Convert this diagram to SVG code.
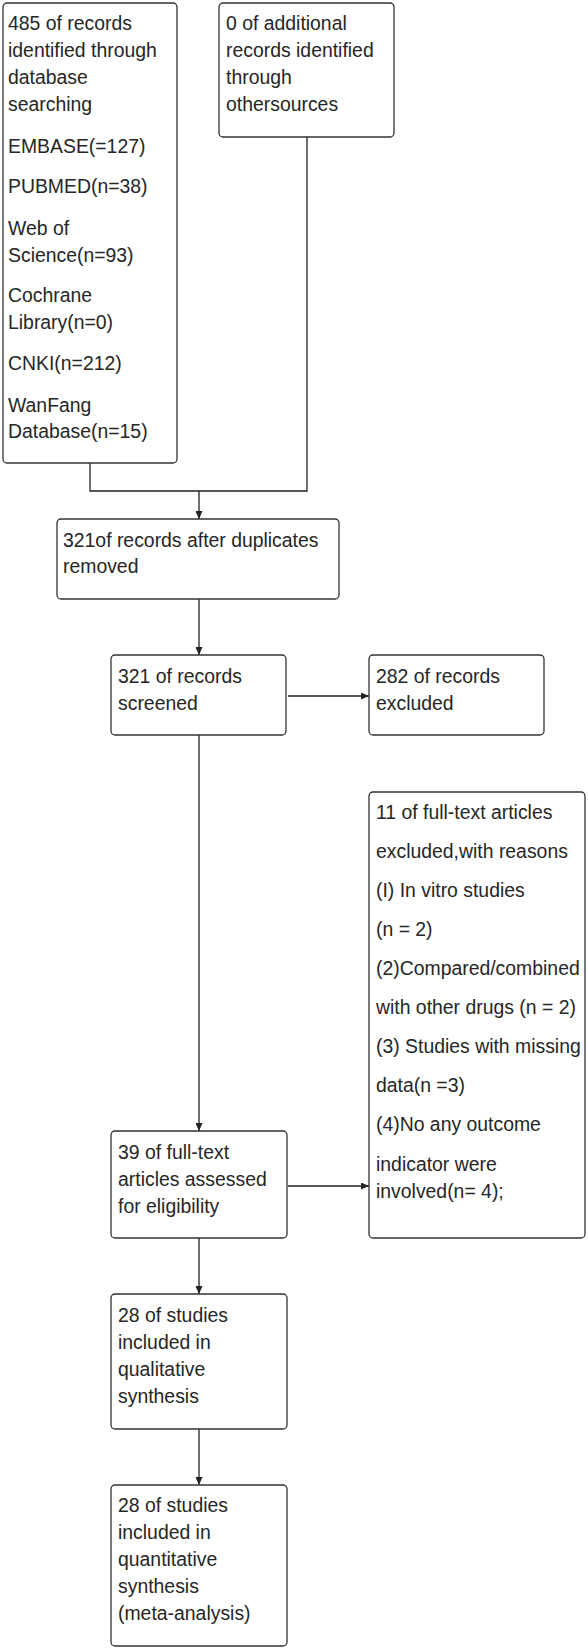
<svg xmlns="http://www.w3.org/2000/svg" width="588" height="1649" viewBox="0 0 588 1649">
<style>
.box{fill:#fff;stroke:#333;stroke-width:1.3}
.t{font-family:"Liberation Sans",Arial,sans-serif;font-size:19.4px;fill:#262626}
.c{fill:none;stroke:#222;stroke-width:1.3}
</style>
<defs>
<marker id="ah" markerUnits="userSpaceOnUse" markerWidth="8" markerHeight="7" refX="8" refY="3.5" orient="auto">
<path d="M0,0 L8,3.5 L0,7 z" fill="#222"/>
</marker>
</defs>
<rect width="588" height="1649" fill="#fff"/>
<g id="connectors">
<path class="c" d="M307,137 V491 H90 V463"/>
<path class="c" d="M199,491 V519" marker-end="url(#ah)"/>
<path class="c" d="M199,599 V655" marker-end="url(#ah)"/>
<path class="c" d="M288,696 H369" marker-end="url(#ah)"/>
<path class="c" d="M199,735 V1131" marker-end="url(#ah)"/>
<path class="c" d="M288,1186 H369" marker-end="url(#ah)"/>
<path class="c" d="M199,1238 V1294" marker-end="url(#ah)"/>
<path class="c" d="M199,1429 V1485" marker-end="url(#ah)"/>
</g>
<g id="n1">
<rect class="box" x="3" y="3" width="174" height="460" rx="4"/>
<text class="t" x="8" y="30">485 of records</text>
<text class="t" x="8" y="57">identified through</text>
<text class="t" x="8" y="84">database</text>
<text class="t" x="8" y="111">searching</text>
<text class="t" x="8" y="153">EMBASE(=127)</text>
<text class="t" x="8" y="193">PUBMED(n=38)</text>
<text class="t" x="8" y="235">Web of</text>
<text class="t" x="8" y="262">Science(n=93)</text>
<text class="t" x="8" y="302">Cochrane</text>
<text class="t" x="8" y="329">Library(n=0)</text>
<text class="t" x="8" y="370">CNKI(n=212)</text>
<text class="t" x="8" y="412">WanFang</text>
<text class="t" x="8" y="438">Database(n=15)</text>
</g>
<g id="n2">
<rect class="box" x="219" y="3" width="175" height="134" rx="4"/>
<text class="t" x="226" y="30">0 of additional</text>
<text class="t" x="226" y="57">records identified</text>
<text class="t" x="226" y="84">through</text>
<text class="t" x="226" y="111">othersources</text>
</g>
<g id="n3">
<rect class="box" x="57" y="519" width="282" height="80" rx="4"/>
<text class="t" x="63" y="547">321of records after duplicates</text>
<text class="t" x="63" y="573">removed</text>
</g>
<g id="n4">
<rect class="box" x="111" y="655" width="175" height="80" rx="4"/>
<text class="t" x="118" y="683">321 of records</text>
<text class="t" x="118" y="710">screened</text>
</g>
<g id="n5">
<rect class="box" x="369" y="655" width="175" height="80" rx="4"/>
<text class="t" x="376" y="683">282 of records</text>
<text class="t" x="376" y="710">excluded</text>
</g>
<g id="n6">
<rect class="box" x="369" y="792" width="216" height="446" rx="4"/>
<text class="t" x="376" y="819">11 of full-text articles</text>
<text class="t" x="376" y="858">excluded,with reasons</text>
<text class="t" x="376" y="897">(I) In vitro studies</text>
<text class="t" x="376" y="936">(n = 2)</text>
<text class="t" x="376" y="975">(2)Compared/combined</text>
<text class="t" x="376" y="1014">with other drugs (n = 2)</text>
<text class="t" x="376" y="1053">(3) Studies with missing</text>
<text class="t" x="376" y="1092">data(n =3)</text>
<text class="t" x="376" y="1131">(4)No any outcome</text>
<text class="t" x="376" y="1171">indicator were</text>
<text class="t" x="376" y="1198">involved(n= 4);</text>
</g>
<g id="n7">
<rect class="box" x="111" y="1131" width="176" height="107" rx="4"/>
<text class="t" x="118" y="1159">39 of full-text</text>
<text class="t" x="118" y="1186">articles assessed</text>
<text class="t" x="118" y="1213">for eligibility</text>
</g>
<g id="n8">
<rect class="box" x="111" y="1294" width="176" height="135" rx="4"/>
<text class="t" x="118" y="1322">28 of studies</text>
<text class="t" x="118" y="1349">included in</text>
<text class="t" x="118" y="1376">qualitative</text>
<text class="t" x="118" y="1403">synthesis</text>
</g>
<g id="n9">
<rect class="box" x="111" y="1485" width="176" height="161" rx="4"/>
<text class="t" x="118" y="1512">28 of studies</text>
<text class="t" x="118" y="1539">included in</text>
<text class="t" x="118" y="1566">quantitative</text>
<text class="t" x="118" y="1593">synthesis</text>
<text class="t" x="118" y="1620">(meta-analysis)</text>
</g>
</svg>
